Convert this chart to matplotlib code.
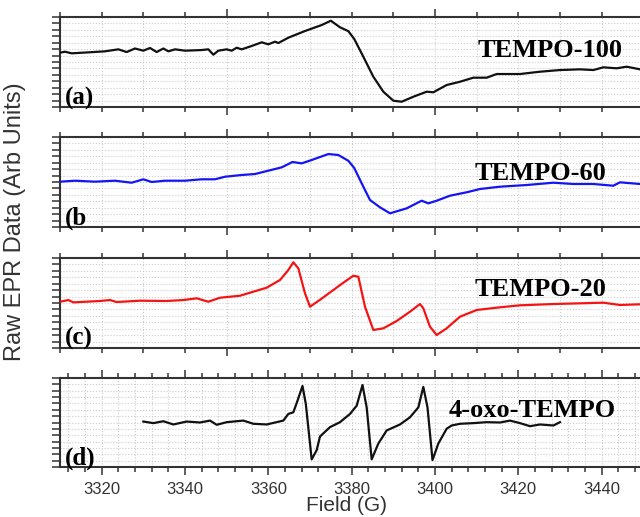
import matplotlib
matplotlib.use('Agg')
import matplotlib.pyplot as plt
from matplotlib.ticker import MultipleLocator, NullFormatter

# EPR spectra, field in gauss, signal in arbitrary units
a_field = [3310, 3311.2, 3312.8, 3316.8, 3320.8, 3324, 3326, 3328, 3330, 3331.6, 3333.2, 3334.8,
           3336, 3337.6, 3340, 3344, 3345.6, 3346.8, 3348, 3350, 3351.2, 3352.4, 3353.6, 3356,
           3358.4, 3360, 3361.6, 3362.4, 3364.8, 3368.8, 3372.8, 3375, 3377.2, 3379.2, 3380.6,
           3382.8, 3385.2, 3387.6, 3390, 3392, 3394.8, 3398, 3399.6, 3402.8, 3406, 3409.2,
           3412.4, 3414.8, 3420.4, 3425.2, 3430, 3434.8, 3438, 3440.4, 3443.6, 3446, 3449.2, 3451]
a_signal = [8.45, 8.6, 8.35, 8.5, 8.66, 8.97, 8.55, 9.1, 8.76, 9.18, 8.55, 9.1,
            8.66, 8.97, 8.76, 8.86, 8.97, 8.14, 8.76, 8.97, 8.76, 9.22, 8.97, 9.49,
            10.06, 9.75, 10.16, 9.95, 10.78, 11.82, 12.75, 13.42, 12.4, 11.8, 10.6,
            7.82, 4.71, 2.38, 0.98, 0.82, 1.6, 2.38, 2.29, 3.42, 3.93, 4.56,
            4.56, 5.13, 5.13, 5.49, 5.75, 5.86, 5.75, 6.17, 6.02, 6.27, 5.86, 5.95]

b_field = [3310, 3313.6, 3318.4, 3323.2, 3327.2, 3330, 3332, 3335.2, 3340, 3344, 3347.2, 3349.6,
           3353.6, 3356.8, 3360, 3363.2, 3365.8, 3368, 3370.4, 3374.4, 3376.8, 3379.2, 3380.6,
           3382.8, 3384.4, 3386.8, 3389.2, 3393.2, 3396.8, 3398.4, 3400.4, 3403.6, 3407.6,
           3410.8, 3415.6, 3422, 3428.4, 3433.2, 3438, 3442.8, 3444.4, 3449.2, 3451]
b_signal = [7.05, 7.2, 7.05, 7.2, 6.89, 7.42, 7.0, 7.2, 7.2, 7.42, 7.42, 7.82,
            8.09, 8.24, 8.76, 9.28, 10.11, 9.9, 10.42, 11.35, 11.2, 10.3, 9.2,
            6.27, 4.2, 3.06, 2.13, 2.9, 4.09, 3.68, 4.09, 4.87, 5.4,
            5.91, 6.27, 6.53, 6.89, 6.69, 6.69, 6.42, 6.95, 6.69, 6.7]

c_field = [3310, 3312, 3313.2, 3319.6, 3322, 3323.6, 3329.2, 3335.6, 3339.6, 3342.8, 3345.6,
           3348.4, 3353.2, 3356.4, 3359.6, 3362.8, 3364.8, 3366, 3367.2, 3368.8, 3370, 3372.4,
           3375.6, 3378, 3380.4, 3381.6, 3383.2, 3385.2, 3387.6, 3390.8, 3394, 3396.4, 3397.2,
           3398.8, 3400.4, 3402.8, 3406, 3410, 3415.6, 3420.4, 3428.4, 3434.8, 3440.4,
           3444.4, 3449.2, 3451]
c_signal = [7.2, 7.46, 7.1, 7.31, 7.46, 7.15, 7.36, 7.31, 7.46, 7.73, 7.2,
            7.82, 8.13, 8.76, 9.38, 10.58, 12.13, 13.33, 12.4, 8.5, 6.42, 7.5,
            9.02, 10.16, 11.24, 11.09, 6.42, 2.8, 3.06, 4.2, 5.65, 6.84, 6.17,
            3.31, 2.02, 3.06, 4.87, 5.91, 6.33, 6.64, 6.84, 6.95, 7.05,
            6.69, 6.8, 6.8]

d_field = [3330, 3332.4, 3334.8, 3337.2, 3340.4, 3343.6, 3346, 3347.6, 3350, 3354, 3356.4,
           3359.6, 3363.6, 3364.8, 3366, 3367, 3368.2, 3369, 3370.4, 3371.6, 3372.4, 3374.8,
           3377.2, 3379.6, 3381.2, 3382.6, 3383.6, 3384.8, 3386.4, 3388.4, 3391.6, 3394, 3396,
           3397.2, 3398.2, 3399.4, 3400.8, 3402.8, 3404, 3406, 3409.2, 3412.4, 3415.6, 3418,
           3420.4, 3422.8, 3425.2, 3428.4, 3430]
d_signal = [7.15, 6.9, 7.2, 6.69, 7.15, 7.0, 7.3, 6.64, 7.05, 7.3, 6.8,
            6.69, 7.3, 8.35, 8.6, 10.42, 12.75, 9.9, 1.2, 2.64, 4.8, 6.27,
            7.05, 8.35, 9.64, 12.9, 9.38, 1.2, 3.69, 5.75, 6.69, 7.82, 9.38,
            12.6, 9.38, 1.09, 3.69, 6.02, 6.53, 6.8, 6.9, 7.05, 7.0, 7.3,
            6.9, 6.42, 6.69, 6.53, 7.05]

names = ['TEMPO-100', 'TEMPO-60', 'TEMPO-20', '4-oxo-TEMPO']
tags = ['(a)', '(b', '(c)', '(d)']
colors = ['#111111', '#1414f5', '#f51414', '#111111']
fields = [a_field, b_field, c_field, d_field]
signals = [a_signal, b_signal, c_signal, d_signal]

# layout in pixels (top, bottom) for each panel, plus label placement
W, H = 640, 517
rows = [(17, 107), (137, 227), (258, 348), (378, 467)]
name_pos = [(0.713, 0.556), (0.709, 0.522), (0.708, 0.578), (0.665, 0.565)]
tag_y = [0.022, 0.022, 0.033, 0.022]

fig = plt.figure(figsize=(W / 100, H / 100), dpi=100)

for i in range(4):
    top, bot = rows[i]
    ax = fig.add_axes([60 / W, 1 - bot / H, 585 / W, (bot - top) / H])
    ax.plot(fields[i], signals[i], color=colors[i], lw=1.6, zorder=3)
    ax.set_xlim(3310, 3450.4)
    ax.set_ylim(0, 14)

    if i < 3:
        ax.xaxis.set_major_locator(MultipleLocator(50))
        ax.xaxis.set_minor_locator(MultipleLocator(10))
        ax.xaxis.set_major_formatter(NullFormatter())
    else:
        ax.xaxis.set_major_locator(MultipleLocator(20))
        ax.xaxis.set_minor_locator(MultipleLocator(4))
    ax.yaxis.set_major_locator(MultipleLocator(1))
    ax.yaxis.set_major_formatter(NullFormatter())

    ax.tick_params(axis='x', which='both', direction='out', top=True, bottom=True,
                   color='#333333', width=1.1)
    ax.tick_params(axis='x', which='major', length=6)
    ax.tick_params(axis='x', which='minor', length=3.6)
    ax.tick_params(axis='y', which='major', direction='out', left=True, right=True,
                   length=5.5, width=1.1, color='#333333')
    ax.tick_params(axis='x', which='major', labelsize=12, pad=5, labelcolor='#333333')
    for lab in ax.get_xticklabels():
        lab.set_family('Liberation Sans')

    ax.grid(which='both', axis='x', color='#cccccc', ls=':', lw=0.8)
    ax.grid(which='major', axis='y', color='#cccccc', ls=':', lw=0.8)
    for s in ax.spines.values():
        s.set_linewidth(1.5)
        s.set_color('#333333')

    nx, ny = name_pos[i]
    ax.text(nx, ny, names[i], transform=ax.transAxes, family='Liberation Serif',
            weight='bold', fontsize=19, va='baseline', ha='left', zorder=4)
    ax.text(0.009, tag_y[i], tags[i], transform=ax.transAxes, family='Liberation Serif',
            weight='bold', fontsize=18, va='baseline', ha='left', zorder=4)

fig.text(15 / W, 1 - 222 / H, 'Raw EPR Data (Arb Units)', rotation=90, ha='center',
         va='center', family='Liberation Sans', fontsize=17, color='#333333')
fig.text(346 / W, 0.012, 'Field (G)', ha='center', va='baseline',
         family='Liberation Sans', fontsize=15, color='#333333')

fig.savefig('out.png', dpi=100)
